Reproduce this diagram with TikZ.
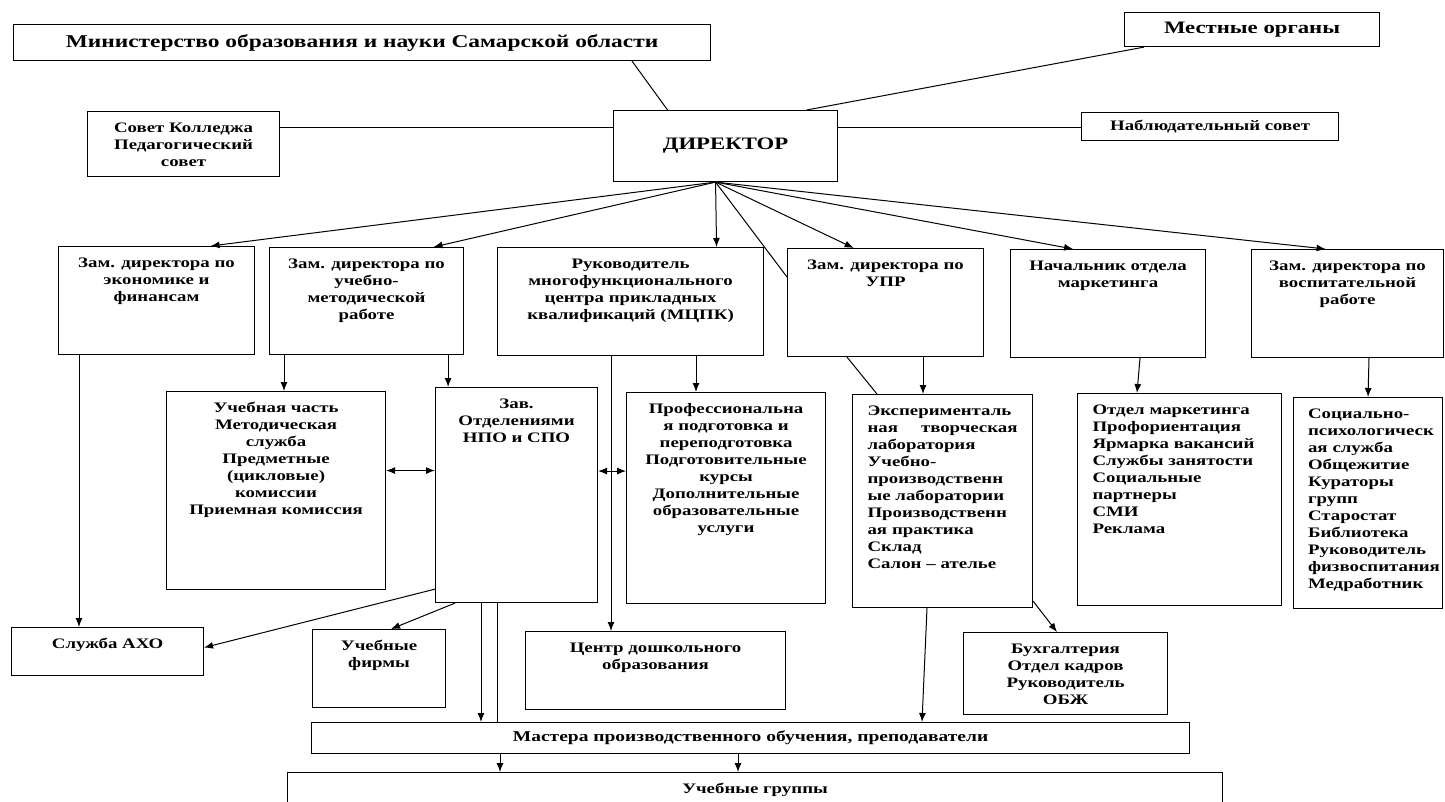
\documentclass[tikz,border=0pt]{standalone}
\usepackage{fontspec}
\setmainfont{Liberation Serif}[FakeStretch=1.3]
\usetikzlibrary{arrows.meta}
\newcommand{\orgfont}{\fontsize{14.5}{17}\selectfont\bfseries}
\newcommand{\topfont}{\fontsize{17.5}{20}\selectfont\bfseries}
\newcommand{\headfont}{\fontsize{18}{20}\selectfont\bfseries}

\begin{document}
\begin{tikzpicture}[x=1pt, y=-1pt,
    box/.style={rectangle, draw=black, line width=1.1pt, anchor=north west, inner sep=0pt, font=\orgfont},
    lbl/.style={anchor=north, inner sep=0pt, align=center, yshift=-9pt, font=\orgfont},
    lbll/.style={lbl, align=left},
    link/.style={line width=1pt},
    arr/.style={link, -{Latex[length=9pt,width=7pt]}},
    darr/.style={link, {Latex[length=9pt,width=7pt]}-{Latex[length=9pt,width=7pt]}}]
\useasboundingbox (0,0) rectangle (1445,801);
\clip (0,0) rectangle (1445,801);

% top
\node[box, font=\headfont, minimum width=697pt, minimum height=36pt] (ministry) at (13,24) {Министерство образования и науки Самарской области};
\node[box, font=\topfont, minimum width=255pt, minimum height=34pt] (mestnye) at (1124,12) {Местные органы};
\node[box, minimum width=192pt, minimum height=65pt,
    label={[lbl]north:{\strut Совет Колледжа\\Педагогический\\совет}}] (sovet) at (87,111) {};
\node[box, font=\topfont, minimum width=224pt, minimum height=71pt] (director) at (613,110) {ДИРЕКТОР};
\node[box, minimum width=257pt, minimum height=28pt] (nablud) at (1081,112) {Наблюдательный совет};

% deputies
\node[box, minimum width=196pt, minimum height=108pt,
    label={[lbl]north:{\strut Зам. директора по\\экономике и\\финансам}}] (zamecon) at (58,246) {};
\node[box, minimum width=194pt, minimum height=107pt,
    label={[lbl]north:{\strut Зам. директора по\\учебно-\\методической\\работе}}] (zamuch) at (269,247) {};
\node[box, minimum width=266pt, minimum height=108pt,
    label={[lbl]north:{\strut Руководитель\\многофункционального\\центра прикладных\\квалификаций (МЦПК)}}] (mcpk) at (497,247) {};
\node[box, minimum width=196pt, minimum height=108pt,
    label={[lbl]north:{\strut Зам. директора по\\УПР}}] (zamupr) at (787,248) {};
\node[box, minimum width=195pt, minimum height=108pt,
    label={[lbl]north:{\strut Начальник отдела\\маркетинга}}] (marknach) at (1010,249) {};
\node[box, minimum width=192pt, minimum height=108pt,
    label={[lbl]north:{\strut Зам. директора по\\воспитательной\\работе}}] (zamvosp) at (1251,249) {};

% services
\node[box, minimum width=219pt, minimum height=198pt,
    label={[lbl]north:{\strut Учебная часть\\Методическая\\служба\\Предметные\\(цикловые)\\комиссии\\Приемная комиссия}}] (uchchast) at (166,391) {};
\node[box, minimum width=162pt, minimum height=215pt,
    label={[lbl]north:{\strut Зав.\\Отделениями\\НПО и СПО}}] (zavotd) at (435,387) {};
\node[box, minimum width=199pt, minimum height=211pt,
    label={[lbl]north:{\strut Профессиональна\\я подготовка и\\переподготовка\\Подготовительные\\курсы\\Дополнительные\\образовательные\\услуги}}] (prof) at (626,392) {};
\node[box, minimum width=180pt, minimum height=213pt,
    label={[lbll, text width=150pt]north:{\strut Эксперименталь\\ная\hfill творческая\\лаборатория\\Учебно-\\производственн\\ые лаборатории\\Производственн\\ая практика\\Склад\\Салон -- ателье}}] (eksp) at (852,394) {};
\node[box, minimum width=204pt, minimum height=212pt,
    label={[lbll, text width=174pt]north:{\strut Отдел маркетинга\\Профориентация\\Ярмарка вакансий\\Службы занятости\\Социальные\\партнеры\\СМИ\\Реклама}}] (otdmark) at (1077,393) {};
\node[box, minimum width=149pt, minimum height=211pt,
    label={[lbll, text width=120pt]north:{\strut Социально-\\психологическ\\ая служба\\Общежитие\\Кураторы\\групп\\Старостат\\Библиотека\\Руководитель\\физвоспитания\\Медработник}}] (socps) at (1293,397) {};

% bottom
\node[box, minimum width=192pt, minimum height=48pt,
    label={[lbl]north:{\strut Служба АХО}}] (axo) at (11,627) {};
\node[box, minimum width=133pt, minimum height=78pt,
    label={[lbl]north:{\strut Учебные\\фирмы}}] (uchfirm) at (312,629) {};
\node[box, minimum width=260pt, minimum height=78pt,
    label={[lbl]north:{\strut Центр дошкольного\\образования}}] (dosh) at (525,631) {};
\node[box, minimum width=204pt, minimum height=82pt,
    label={[lbl]north:{\strut Бухгалтерия\\Отдел кадров\\Руководитель\\ОБЖ}}] (buh) at (963,632) {};
\node[box, font=\fontsize{15}{17}\selectfont\bfseries, minimum width=878pt, minimum height=31pt] (mastera) at (311,722) {Мастера производственного обучения, преподаватели};
\node[box, minimum width=935pt, minimum height=60pt,
    label={[lbl]north:{\strut Учебные группы}}] (uchgr) at (287,772) {};

% links of the director
\draw[link] ([xshift=270pt]ministry.south) -- ([xshift=-58pt]director.north);
\draw[link] ([xshift=-108pt]mestnye.south) -- ([xshift=81pt]director.north);
\draw[link] ([yshift=17pt]sovet.east) -- ([yshift=17pt]sovet.east -| director.west);
\draw[link] ([yshift=19pt]director.east) -- ([yshift=19pt]director.east -| nablud.west);
\draw[arr] ([xshift=-10pt]director.south) -- ([xshift=54pt]zamecon.north);
\draw[arr] ([xshift=-10pt]director.south) -- ([xshift=67pt]zamuch.north);
\draw[arr] ([xshift=-10pt]director.south) -- ([xshift=86pt]mcpk.north);
\draw[link] ([xshift=-10pt]director.south) -- ([yshift=-29pt]zamupr.north west);
\draw[arr] ([xshift=-10pt]director.south) -- ([xshift=-32pt]zamupr.north);
\draw[arr] ([xshift=-10pt]director.south) -- ([xshift=-35pt]marknach.north);
\draw[arr] ([xshift=-10pt]director.south) -- ([xshift=-22pt]zamvosp.north);

% deputies to services
\draw[arr] ([xshift=21pt]zamecon.south west) -- ([xshift=21pt]zamecon.south west |- axo.north);
\draw[arr] ([xshift=15pt]zamuch.south west) -- ([xshift=15pt]zamuch.south west |- uchchast.north);
\draw[arr] ([xshift=-16pt]zamuch.south east) -- ([xshift=-16pt]zamuch.south east |- zavotd.north);
\draw[arr] ([xshift=114pt]mcpk.south west) -- ([xshift=114pt]mcpk.south west |- dosh.north);
\draw[arr] ([xshift=199pt]mcpk.south west) -- ([xshift=199pt]mcpk.south west |- prof.north);
\draw[link] ([xshift=60pt]zamupr.south west) -- ([xshift=25pt]eksp.north west);
\draw[arr] ([xshift=136pt]zamupr.south west) -- ([xshift=136pt]zamupr.south west |- eksp.north);
\draw[arr] ([xshift=130pt]marknach.south west) -- ([xshift=60pt]otdmark.north west);
\draw[arr] ([xshift=118pt]zamvosp.south west) -- ([xshift=75pt]socps.north west);

% between services
\draw[darr] ([yshift=20pt]uchchast.east) -- ([yshift=20pt]uchchast.east -| zavotd.west);
\draw[darr] ([yshift=24pt]zavotd.east) -- ([yshift=24pt]zavotd.east -| prof.west);
\draw[arr] ([yshift=14pt]zavotd.south west) -- ([yshift=4pt]axo.east);
\draw[arr] ([xshift=20pt]zavotd.south west) -- ([xshift=12pt]uchfirm.north);
\draw[arr] ([xshift=46pt]zavotd.south west) -- ([xshift=46pt]zavotd.south west |- mastera.north);
\draw[link] ([xshift=62pt]zavotd.south west) -- ([xshift=62pt]zavotd.south west |- mastera.north);
\draw[arr] ([xshift=75pt]eksp.south west) -- ([xshift=611pt]mastera.north west);
\draw[arr] ([yshift=7pt]eksp.south east) -- ([xshift=94pt]buh.north west);
\draw[arr] ([xshift=189pt]mastera.south west) -- ([xshift=189pt]mastera.south west |- uchgr.north);
\draw[arr] ([xshift=427pt]mastera.south west) -- ([xshift=427pt]mastera.south west |- uchgr.north);
\end{tikzpicture}
\end{document}
